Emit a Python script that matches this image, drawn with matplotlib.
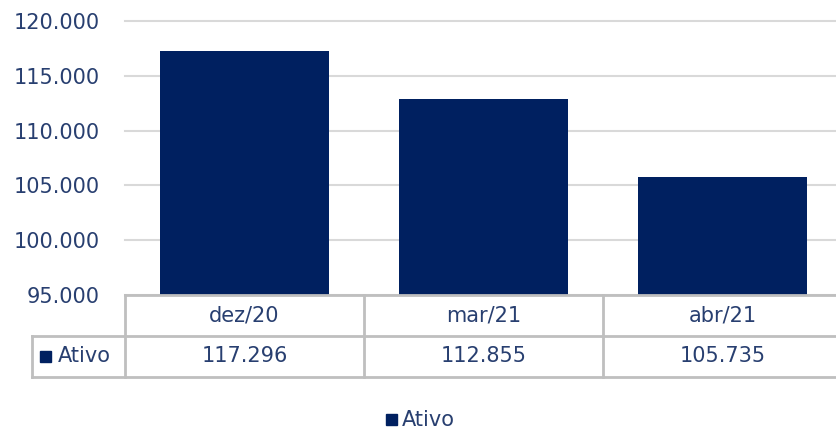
import matplotlib.pyplot as plt
from matplotlib.lines import Line2D
from matplotlib.patches import Rectangle

# data
categories = ['dez/20', 'mar/21', 'abr/21']
ativo = [117296, 112855, 105735]
series_name = 'Ativo'
yticks = [95000, 100000, 105000, 110000, 115000, 120000]

bar_color = '#002060'
text_color = '#283F70'
line_color = '#BFBFBF'
grid_color = '#D9D9D9'

W, H = 836, 430
FS = 15
plt.rcParams['font.family'] = 'DejaVu Sans'
fig = plt.figure(figsize=(W / 100, H / 100), dpi=100)

def fx(px):
    return px / W

def fy(py):
    return 1 - py / H

def fmt(v):
    return f'{v:,}'.replace(',', '.')

# plot area (runs slightly past the right edge, as in the original)
left, top, bottom = 125, 21, 295
col_w = 239
ax = fig.add_axes([fx(left), fy(bottom), col_w * len(categories) / W, (bottom - top) / H])
x = range(len(categories))
ax.bar(x, ativo, width=0.71, color=bar_color, zorder=3)
ax.set_xlim(-0.5, len(categories) - 0.5)
ax.set_ylim(yticks[0], yticks[-1])
ax.set_yticks(yticks)
ax.set_yticklabels([fmt(v) for v in yticks])
ax.tick_params(axis='y', length=0, pad=18, labelsize=FS, labelcolor=text_color)
ax.tick_params(axis='x', length=0, labelbottom=False)
ax.grid(axis='y', color=grid_color, linewidth=1.5, zorder=0)
for g in ax.get_ygridlines():
    g.set_clip_on(False)
for s in ax.spines.values():
    s.set_visible(False)

# data table below the plot
row1, row2, row3 = 295, 336, 377
lkw = dict(color=line_color, linewidth=2, transform=fig.transFigure)
fig.add_artist(Line2D([fx(left), 1], [fy(row1), fy(row1)], **lkw))
fig.add_artist(Line2D([fx(32), 1], [fy(row2), fy(row2)], **lkw))
fig.add_artist(Line2D([fx(32), 1], [fy(row3), fy(row3)], **lkw))
fig.add_artist(Line2D([fx(32), fx(32)], [fy(row2), fy(row3)], **lkw))
for i in range(len(categories)):
    xl = left + i * col_w
    fig.add_artist(Line2D([fx(xl), fx(xl)], [fy(row1), fy(row3)], **lkw))
for i, (c, v) in enumerate(zip(categories, ativo)):
    xc = left + (i + 0.5) * col_w
    fig.text(fx(xc), fy((row1 + row2) / 2), c, ha='center', va='center',
             fontsize=FS, color=text_color)
    fig.text(fx(xc), fy((row2 + row3) / 2), fmt(v),
             ha='center', va='center', fontsize=FS, color=text_color)

# legend key in table
fig.add_artist(Rectangle((fx(40), fy(362)), fx(11), 11 / H, color=bar_color,
                         transform=fig.transFigure))
fig.text(fx(58), fy((row2 + row3) / 2), series_name, ha='left', va='center',
         fontsize=FS, color=text_color)

# legend at bottom
fig.add_artist(Rectangle((fx(386), fy(425)), fx(11), 11 / H, color=bar_color,
                         transform=fig.transFigure))
fig.text(fx(402), fy(420), series_name, ha='left', va='center',
         fontsize=FS, color=text_color)

fig.savefig('out.png', dpi=100)
